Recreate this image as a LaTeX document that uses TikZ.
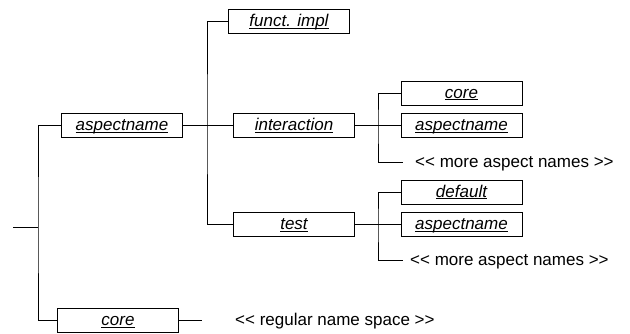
\documentclass[tikz,border=0pt]{standalone}
\usepackage{fontspec}
\setmainfont{Liberation Sans}[Ligatures=TeXOff]
% italic, underlined name set inside a box
\newcommand\uname[1]{\setbox0\hbox{\itshape #1}\rlap{\rule[-1.8pt]{\wd0}{0.8pt}}\box0}
\begin{document}
\begin{tikzpicture}[x=1pt,y=-1pt,
  box/.style={draw, line width=0.9pt, minimum width=121pt, minimum height=24pt,
    inner sep=0pt, text height=13pt, text depth=2pt,
    font=\fontsize{17}{20}\selectfont},
  note/.style={anchor=west, inner sep=0pt, text height=13pt, text depth=2pt,
    font=\fontsize{17}{20}\selectfont},
  wire/.style={line width=0.9pt}]
\useasboundingbox (0,0) rectangle (630,334);

% name boxes
\node[box] (funct)   at (289,21.5)    {\uname{funct. impl}};
\node[box] (asp1)    at (122,125.5)   {\uname{aspectname}};
\node[box] (inter)   at (294,125.5)   {\uname{interaction}};
\node[box] (test)    at (294,224.5)   {\uname{test}};
\node[box] (core1)   at (118,320)     {\uname{core}};
\node[box] (core2)   at (461.5,93)    {\uname{core}};
\node[box] (asp2)    at (461.5,125.5) {\uname{aspectname}};
\node[box] (default) at (461.5,192)   {\uname{default}};
\node[box] (asp3)    at (461.5,224.5) {\uname{aspectname}};

% free texts
\node[note] (more1) at (415,162) {<< more aspect names >>};
\node[note] (more2) at (410,260) {<< more aspect names >>};
\node[note] (reg)   at (235,320) {<< regular name space >>};

% junction points and free ends
\coordinate (root) at (13,227);
\coordinate (j0) at (38,227);
\coordinate (j1) at (207,125.5);
\coordinate (j2) at (378,125.5);
\coordinate (j3) at (378,224.5);
\coordinate (m1end) at (403,162);
\coordinate (m2end) at (403,260);
\coordinate (regend) at (202,320);

% tree connectors
\draw[wire] (root) -- (j0);
\draw[wire] (asp1.west) -| (j0) |- (core1.west);
\draw[wire] (asp1.east) -- (inter.west);
\draw[wire] (funct.west) -| (j1) |- (test.west);
\draw[wire] (inter.east) -- (asp2.west);
\draw[wire] (core2.west) -| (j2) |- (m1end);
\draw[wire] (test.east) -- (asp3.west);
\draw[wire] (default.west) -| (j3) |- (m2end);
\draw[wire] (core1.east) -- (regend);
\end{tikzpicture}
\end{document}
